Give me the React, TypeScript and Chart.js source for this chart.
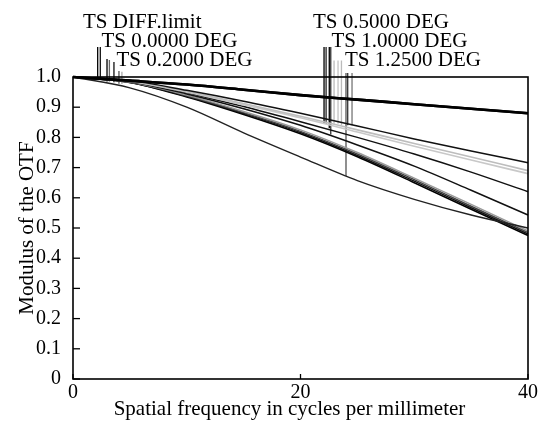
import React, { useEffect, useRef } from 'react';
import { Chart, registerables } from 'chart.js';

Chart.register(...registerables);

// Spatial frequency sample points (cycles/mm)
const freq = [0, 5, 10, 15, 20, 25, 30, 35, 40];

// MTF curves
const diffT = [1, 0.988, 0.975, 0.958, 0.94, 0.925, 0.91, 0.895, 0.88];
const diffS = [1, 0.988, 0.975, 0.958, 0.94, 0.925, 0.91, 0.895, 0.88];
const curveB = [1, 0.988, 0.956, 0.92, 0.88, 0.838, 0.795, 0.755, 0.716];
const curveC = [1, 0.986, 0.952, 0.912, 0.87, 0.825, 0.78, 0.735, 0.69];
const curveD = [1, 0.985, 0.95, 0.908, 0.865, 0.818, 0.771, 0.725, 0.68];
const curveE = [1, 0.985, 0.948, 0.902, 0.852, 0.8, 0.745, 0.685, 0.62];
const curveF = [1, 0.984, 0.944, 0.895, 0.84, 0.775, 0.705, 0.625, 0.543];
const curveG = [1, 0.964, 0.9, 0.815, 0.735, 0.657, 0.595, 0.543, 0.5];
const curveH = [1, 0.983, 0.94, 0.886, 0.825, 0.75, 0.665, 0.578, 0.49];
const curveI = [1, 0.983, 0.938, 0.882, 0.82, 0.745, 0.66, 0.572, 0.485];
const curveJ = [1, 0.982, 0.936, 0.879, 0.816, 0.74, 0.655, 0.567, 0.48];
const curveK = [1, 0.982, 0.934, 0.876, 0.812, 0.736, 0.65, 0.562, 0.475];

const curves = [diffT, diffS, curveB, curveC, curveD, curveE, curveF, curveG, curveH, curveI, curveJ, curveK];
const curveColors = ['#000', '#000', '#111', '#bdbdbd', '#c8c8c8', '#111', '#111', '#222', '#9a9a9a', '#444', '#111', '#000'];
const curveWidths = [2.6, 2.6, 1.5, 1.6, 1.6, 1.5, 1.5, 1.4, 1.5, 1.5, 1.5, 1.5];

// Legend marker drops (x in cycles/mm, from label row down to the curve)
const markerX = [2.17, 2.4, 2.99, 3.2, 3.6, 4.04, 4.3, 22.07, 22.25, 22.53, 22.66, 22.95, 23.3, 23.6, 24.0, 24.15, 24.53];
const markerTop = [1.099, 1.099, 1.06, 1.056, 1.05, 1.02, 1.017, 1.099, 1.099, 1.099, 1.099, 1.055, 1.055, 1.055, 1.013, 1.013, 1.013];
const markerBottom = [0.99, 0.99, 0.985, 0.985, 0.983, 0.978, 0.977, 0.845, 0.845, 0.83, 0.81, 0.845, 0.845, 0.84, 0.672, 0.84, 0.84];
const markerColors = ['#000', '#111', '#000', '#666', '#111', '#555', '#aaa', '#000', '#222', '#000', '#333', '#bbb', '#c4c4c4', '#bbb', '#555', '#333', '#777'];

const legendLabels = ['TS DIFF.limit', 'TS 0.0000 DEG', 'TS 0.2000 DEG', 'TS 0.5000 DEG', 'TS 1.0000 DEG', 'TS 1.2500 DEG'];
const xTitle = 'Spatial frequency in cycles per millimeter';
const yTitle = 'Modulus of the OTF';

const FONT = "'Liberation Serif', 'DejaVu Serif', serif";

export default function App() {
  const ref = useRef<HTMLCanvasElement | null>(null);

  useEffect(() => {
    if (!ref.current) return;

    const datasets: any[] = curves.map((c, i) => ({
      data: c.map((v, j) => ({ x: freq[j], y: v })),
      borderColor: curveColors[i],
      borderWidth: curveWidths[i],
      pointRadius: 0,
      fill: false,
      cubicInterpolationMode: 'monotone',
      clip: false,
    }));
    markerX.forEach((mx, i) => {
      datasets.push({
        data: [
          { x: mx, y: markerTop[i] },
          { x: mx, y: markerBottom[i] },
        ],
        borderColor: markerColors[i],
        borderWidth: 1.3,
        pointRadius: 0,
        fill: false,
        tension: 0,
        clip: false,
      });
    });

    const deco = {
      id: 'deco',
      afterDraw(chart: any) {
        const { ctx, chartArea: a, scales } = chart;
        const xs = scales.x;
        const ys = scales.y;
        ctx.save();
        // frame
        ctx.strokeStyle = '#000';
        ctx.lineWidth = 1.6;
        ctx.strokeRect(a.left, a.top, a.right - a.left, a.bottom - a.top);
        // inward ticks
        ctx.lineWidth = 1.3;
        ys.ticks.forEach((t: any) => {
          const py = ys.getPixelForValue(t.value);
          ctx.beginPath();
          ctx.moveTo(a.left, py);
          ctx.lineTo(a.left + 7, py);
          ctx.stroke();
        });
        xs.ticks.forEach((t: any) => {
          const px = xs.getPixelForValue(t.value);
          ctx.beginPath();
          ctx.moveTo(px, a.bottom);
          ctx.lineTo(px, a.bottom - 5);
          ctx.stroke();
        });
        // legend labels
        ctx.fillStyle = '#000';
        ctx.font = `21px ${FONT}`;
        ctx.textAlign = 'left';
        ctx.textBaseline = 'alphabetic';
        const pos = [
          [83, 27.5],
          [101.5, 46.5],
          [116.5, 65.5],
          [313, 28],
          [331.5, 47],
          [345, 66],
        ];
        legendLabels.forEach((l, i) => ctx.fillText(l, pos[i][0], pos[i][1]));
        // axis titles
        ctx.textAlign = 'center';
        ctx.fillText(xTitle, 289.5, 415);
        ctx.translate(33, (a.top + a.bottom) / 2);
        ctx.rotate(-Math.PI / 2);
        ctx.fillText(yTitle, 0, 0);
        ctx.restore();
      },
    };

    const chart = new Chart(ref.current, {
      type: 'line',
      data: { datasets },
      options: {
        animation: false,
        responsive: false,
        events: [],
        layout: { padding: { top: 77, right: 14, left: 0, bottom: 0 } },
        plugins: { legend: { display: false }, tooltip: { enabled: false } },
        scales: {
          x: {
            type: 'linear',
            min: 0,
            max: 40,
            grid: { display: false },
            border: { display: false },
            ticks: {
              stepSize: 20,
              padding: -6,
              color: '#000',
              font: { family: FONT, size: 20 },
              maxRotation: 0,
              callback: (v: any) => String(v),
            },
            afterFit: (s: any) => {
              s.height = 44;
            },
          },
          y: {
            type: 'linear',
            min: 0,
            max: 1,
            grid: { display: false },
            border: { display: false },
            ticks: {
              stepSize: 0.1,
              padding: 4,
              color: '#000',
              font: { family: FONT, size: 20 },
              callback: (v: any) => (v === 0 ? '0' : Number(v).toFixed(1)),
            },
            afterFit: (s: any) => {
              s.width = 73;
            },
          },
        },
      },
      plugins: [deco],
    });
    return () => chart.destroy();
  }, []);

  return (
    <div style={{ position: 'fixed', left: 0, top: 0, width: 542, height: 423, background: '#fff' }}>
      <canvas ref={ref} width={542} height={423} style={{ display: 'block' }} />
    </div>
  );
}
